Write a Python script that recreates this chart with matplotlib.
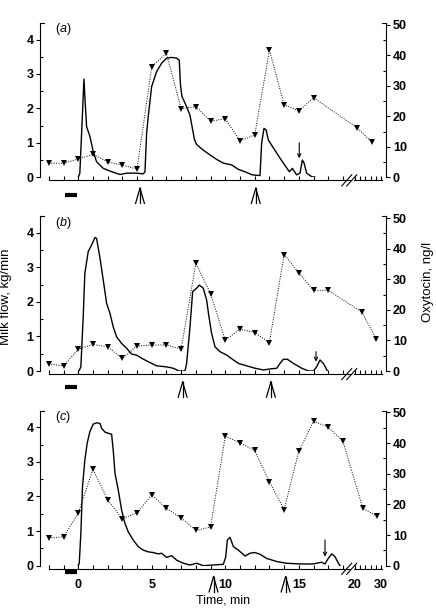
'''
Milk flow (solid) and plasma oxytocin (dotted, triangles) during milking,
three cows (a), (b), (c). Time axis is broken after ~18.6 min.
'''

import numpy as np
import matplotlib
matplotlib.use('Agg')
import matplotlib.pyplot as plt
import matplotlib.transforms as mtransforms

plt.rcParams['font.family'] = ['Liberation Sans', 'DejaVu Sans']
plt.rcParams['mathtext.fontset'] = 'custom'
plt.rcParams['mathtext.it'] = 'Liberation Sans:italic'
plt.rcParams['mathtext.rm'] = 'Liberation Sans'

# ---- panel (a)
mf_t_a = [0.0, 0.11, 0.23, 0.39, 0.47, 0.57, 0.8, 1.02, 1.25, 1.7, 2.16, 2.84, 3.29, 3.97, 4.42,
          4.54, 4.65, 4.76, 4.99, 5.33, 5.67, 6.01, 6.35, 6.69, 6.87, 6.95, 7.05, 7.37, 7.6, 7.9,
          8.05, 8.5, 8.96, 9.41, 9.87, 10.43, 10.89, 11.34, 11.84, 12.36, 12.47, 12.63, 12.77, 12.93,
          13.5, 13.95, 14.36, 14.56, 14.85, 15.08, 15.24, 15.35, 15.53, 15.87, 16.1]
mf_a = [0.0, 0.12, 1.28, 2.85, 2.2, 1.47, 1.18, 0.75, 0.45, 0.26, 0.18, 0.08, 0.12, 0.12, 0.1,
        0.16, 1.28, 1.76, 2.63, 3.07, 3.31, 3.46, 3.48, 3.46, 3.4, 2.7, 2.35, 2.05, 1.8, 1.1,
        0.95, 0.79, 0.65, 0.52, 0.41, 0.36, 0.23, 0.16, 0.07, 0.05, 0.99, 1.42, 1.38, 1.08,
        0.70, 0.41, 0.16, 0.26, 0.07, 0.12, 0.50, 0.42, 0.12, 0.02, 0.0]
ox_t_a = [-2, -1, 0, 1, 2, 3, 4, 5, 6, 7, 8, 9, 10, 11, 12, 13, 14, 15, 16, 20.7, 26.4]
ox_a = [4.6, 4.6, 6.0, 7.5, 5.1, 4.0, 2.7, 36.3, 40.6, 22.5, 23.2, 18.4, 19.2, 11.9, 13.9,
        41.7, 23.8, 21.7, 26.1, 16.3, 11.6]

# ---- panel (b)
mf_t_b = [0.05, 0.18, 0.34, 0.45, 0.68, 0.91, 1.14, 1.25, 1.48, 1.70, 1.93, 2.16, 2.38, 2.61, 2.95,
          3.29, 3.63, 3.97, 4.31, 4.76, 5.33, 6.01, 6.46, 6.85, 7.26, 7.37, 7.6, 7.78, 8.05, 8.23,
          8.5, 8.73, 8.89, 9.07, 9.3, 9.64, 10.1, 10.55, 10.89, 11.45, 12.02, 12.59, 13.04, 13.5,
          13.72, 13.95, 14.22, 14.63, 15.2, 15.65, 15.99, 16.21, 16.44, 16.67, 16.85, 16.94]
mf_b = [0.0, 0.12, 1.57, 2.83, 3.46, 3.65, 3.87, 3.84, 3.27, 2.64, 1.96, 1.67, 1.28, 0.99, 0.8,
        0.66, 0.49, 0.46, 0.37, 0.27, 0.15, 0.12, 0.08, 0.0, 0.0, 0.22, 1.28, 2.3, 2.4, 2.49,
        2.4, 2.06, 1.57, 1.09, 0.7, 0.56, 0.46, 0.32, 0.22, 0.15, 0.08, 0.03, 0.06, 0.08,
        0.22, 0.34, 0.34, 0.22, 0.08, 0.0, 0.0, 0.12, 0.32, 0.22, 0.08, 0.0]
ox_t_b = [-2, -1, 0, 1, 2, 3, 4, 5, 6, 7, 8, 9, 10, 11, 12, 13, 14, 15, 16, 17, 22.6, 28.1]
ox_b = [2.3, 1.7, 7.1, 8.7, 7.9, 4.1, 8.2, 8.5, 8.5, 7.2, 35.3, 25.3, 10.1, 13.7, 12.6, 9.3,
        38.1, 32.1, 26.4, 26.4, 19.3, 10.6]

# ---- panel (c)
mf_t_c = [0.0, 0.07, 0.18, 0.29, 0.45, 0.61, 0.79, 1.02, 1.25, 1.48, 1.59, 1.82, 2.16, 2.27, 2.38,
          2.5, 2.72, 2.95, 3.17, 3.4, 3.74, 4.08, 4.42, 4.76, 5.1, 5.44, 5.67, 6.01, 6.35, 6.69,
          7.15, 7.6, 8.05, 8.5, 9.18, 9.87, 10.03, 10.14, 10.32, 10.55, 10.89, 11.34, 11.68, 12.02,
          12.36, 12.81, 13.5, 14.17, 15.08, 15.99, 16.55, 16.78, 17.0, 17.24, 17.46, 17.69, 17.8]
mf_c = [0.0, 0.07, 0.94, 2.28, 3.05, 3.54, 3.87, 4.09, 4.13, 4.11, 3.97, 3.86, 3.81, 3.8, 3.34,
        2.67, 2.19, 1.61, 1.23, 0.98, 0.74, 0.55, 0.45, 0.40, 0.38, 0.34, 0.36, 0.24, 0.29, 0.16,
        0.07, 0.02, 0.07, 0.0, 0.02, 0.04, 0.26, 0.74, 0.82, 0.55, 0.45, 0.28, 0.36, 0.38,
        0.33, 0.21, 0.12, 0.07, 0.05, 0.05, 0.1, 0.05, 0.21, 0.34, 0.26, 0.07, 0.0]
ox_t_c = [-2, -1, 0, 1, 2, 3, 4, 5, 6, 7, 8, 9, 10, 11, 12, 13, 14, 15, 16, 17, 18, 23.0, 28.4]
ox_c = [9.1, 9.4, 17.1, 31.5, 21.5, 15.3, 17.3, 23.1, 18.7, 15.6, 11.5, 12.6, 42.2, 40.1, 37.6,
        27.4, 18.3, 37.4, 47.1, 45.2, 40.6, 18.7, 16.2]

# single down arrow (time, from, to) and double arrows (times)
arrow_a = (15.03, 1.0, 0.55)
arrow_b = (16.17, 0.56, 0.27)
arrow_c = (16.78, 0.74, 0.26)
stim_a = [4.2, 12.07]
stim_b = [7.1, 13.1]
stim_c = [9.2, 14.1]

xmajor = [0, 5, 10, 15, 20, 30]
xlabels = ['0', '5', '10', '15', '20', '30']
xminor = list(range(-2, 19)) + [22, 24, 26, 28]

# broken time axis: linear up to 18.6 min, squeezed after 20 min
TB = [-60, 18.6, 20, 100]
PB = [-60, 18.6, 18.82, 18.82 + 80 * 0.177]

def fwd(t):
    return np.interp(t, TB, PB)

def inv(p):
    return np.interp(p, PB, TB)


def panel(fig, rect, label, mf_t, mf, ox_t, ox, arrow, stim, bar_y, show_x):
    ax = fig.add_axes(rect)
    ax.set_xscale('function', functions=(fwd, inv))
    ax.set_xlim(-2.6, 31.9)
    ax.set_ylim(0, 4.48)
    ax2 = ax.twinx()
    ax2.set_ylim(0, 50.6)

    ax.plot(mf_t, mf, color='k', lw=1.0)
    ax2.plot(ox_t, ox, color='k', lw=0.7, ls=(0, (1, 1.5)), marker='v', ms=3.8,
             markerfacecolor='k', markeredgewidth=0)

    for s in ['top', 'right']:
        ax.spines[s].set_visible(False)
    for s in ['top', 'left', 'bottom']:
        ax2.spines[s].set_visible(False)
    ax.spines['left'].set_linewidth(0.8)
    ax2.spines['right'].set_linewidth(0.8)
    ax.spines['bottom'].set_position(('axes', -0.02))
    ax.spines['bottom'].set_bounds(-2, 18.45)
    ax.spines['bottom'].set_linewidth(0.8)

    trans = mtransforms.blended_transform_factory(ax.transData, ax.transAxes)
    # rest of the time axis after the break
    ax.plot([19.6, 30.2], [-0.02, -0.02], transform=trans, color='k', lw=0.8, clip_on=False)
    # break marks //
    for dx in [0, 0.0145]:
        ax.plot([0.872 + dx, 0.901 + dx], [-0.056, 0.016], transform=ax.transAxes,
                color='k', lw=0.8, clip_on=False)
    # caps at top of y spines
    ax.plot([0, 0.012], [1, 1], transform=ax.transAxes, color='k', lw=0.8, clip_on=False)
    ax.plot([0.988, 1], [1, 1], transform=ax.transAxes, color='k', lw=0.8, clip_on=False)

    ax.set_yticks([0, 1, 2, 3, 4])
    ax.set_yticklabels(['0', '1', '2', '3', '4'], fontweight='bold', fontsize=9)
    ax.set_yticks([0.5, 1.5, 2.5, 3.5], minor=True)
    ax.tick_params(axis='y', which='major', direction='out', length=3, width=0.8, pad=1.5)
    ax.tick_params(axis='y', which='minor', direction='in', length=2.5, width=0.8)

    ax2.set_yticks([0, 10, 20, 30, 40, 50])
    ax2.set_yticklabels(['0', '10', '20', '30', '40', '50'], fontweight='bold', fontsize=9)
    ax2.set_yticks([5, 15, 25, 35, 45], minor=True)
    ax2.tick_params(axis='y', which='major', direction='out', length=3, width=0.8, pad=2)
    ax2.tick_params(axis='y', which='minor', direction='in', length=2.5, width=0.8)

    ax.set_xticks(xmajor)
    ax.set_xticks(xminor, minor=True)
    if show_x:
        ax.set_xticklabels(xlabels, fontweight='bold', fontsize=9)
    else:
        ax.set_xticklabels([])
    ax.tick_params(axis='x', which='both', direction='in', length=3, width=0.8, pad=7)

    # double arrows below the axis
    for t0 in stim:
        for dx in [-0.3, 0, 0.3]:
            ax.plot([t0 + dx, t0], [-0.169, -0.071], transform=trans, color='k',
                    lw=0.9, clip_on=False)
    # black bar
    ax.plot([-0.9, -0.08], [bar_y, bar_y], transform=trans, color='k', lw=3,
            solid_capstyle='butt', clip_on=False)
    # single down arrow
    ax.annotate('', xy=(arrow[0], arrow[2]), xytext=(arrow[0], arrow[1]),
                arrowprops=dict(arrowstyle='->', lw=0.8, color='k', shrinkA=0, shrinkB=0,
                                mutation_scale=6))
    ax.text(0.066, 0.96, '($\\mathit{' + label + '}$)', transform=ax.transAxes,
            fontsize=9, ha='center', va='center')
    return ax


if __name__ == "__main__":
    fig = plt.figure(figsize=(4.36, 6.08), dpi=100)
    L, W = 0.0917, 0.7936
    panel(fig, [L, 0.7084, W, 0.2538], 'a', mf_t_a, mf_a, ox_t_a, ox_a, arrow_a, stim_a, -0.115, False)
    panel(fig, [L, 0.3898, W, 0.2543], 'b', mf_t_b, mf_b, ox_t_b, ox_b, arrow_b, stim_b, -0.105, False)
    panel(fig, [L, 0.0696, W, 0.2550], 'c', mf_t_c, mf_c, ox_t_c, ox_c, arrow_c, stim_c, -0.04, True)

    fig.text(0.014, 0.512, 'Milk flow, kg/min', rotation=90, ha='center', va='center', fontsize=9.5)
    fig.text(0.982, 0.536, 'Oxytocin, ng/l', rotation=90, ha='center', va='center', fontsize=9.5)
    fig.text(0.512, 0.002, 'Time, min', ha='center', va='bottom', fontsize=9)

    fig.savefig('out.png', dpi=100)
